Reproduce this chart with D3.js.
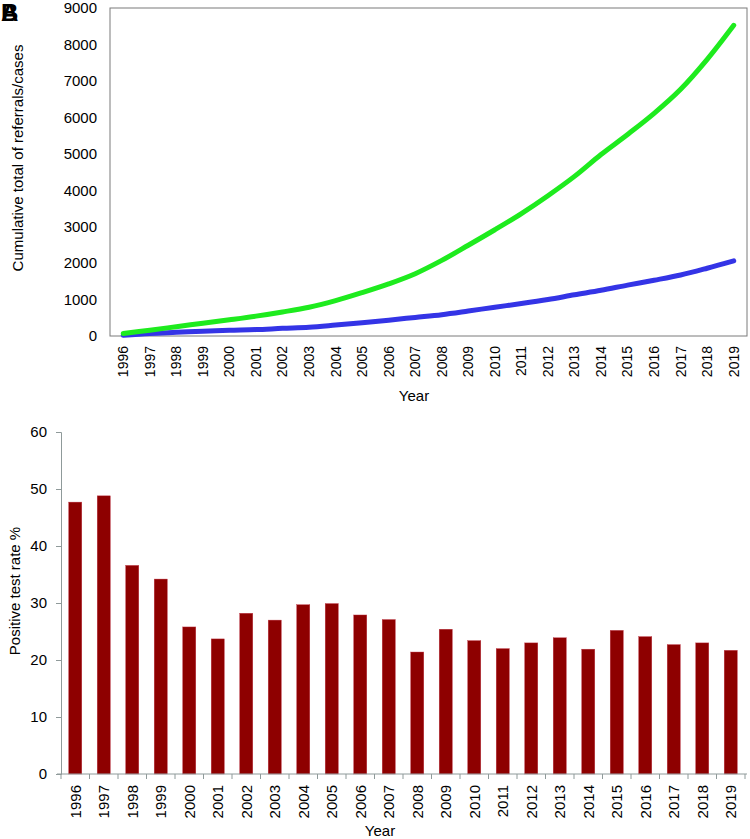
<!DOCTYPE html>
<html>
<head>
<meta charset="utf-8">
<script src="https://cdn.jsdelivr.net/npm/d3@7"></script>
<style>
  html, body { margin: 0; padding: 0; background: #fff; }
  svg { display: block; font-family: "Liberation Sans", Arial, sans-serif; }
</style>
</head>
<body>
<svg id="chart" width="750" height="839"></svg>
<script>
// ---- Data ----
const years = ["1996","1997","1998","1999","2000","2001","2002","2003","2004","2005","2006","2007",
               "2008","2009","2010","2011","2012","2013","2014","2015","2016","2017","2018","2019"];
const referralsCumulative = [70,160,255,350,445,545,660,790,970,1190,1430,1710,
                             2075,2490,2915,3360,3850,4380,4980,5530,6110,6770,7590,8525];
const casesCumulative = [20,70,100,130,155,175,210,240,300,365,435,510,
                         585,685,790,890,1000,1130,1255,1395,1530,1675,1860,2060];
const positiveRate = [47.7,48.8,36.6,34.2,25.8,23.7,28.2,27.0,29.7,29.9,27.9,27.1,
                      21.4,25.4,23.4,22.0,23.0,23.9,21.9,25.2,24.1,22.7,23.0,21.7];
const topTicks = [0,1000,2000,3000,4000,5000,6000,7000,8000,9000];
const bottomTicks = [0,10,20,30,40,50,60];
const topYTitle = "Cumulative total of referrals/cases";
const bottomYTitle = "Positive test rate %";
const xTitle = "Year";

const svg = d3.select("#chart");

// Panel labels (overlapping A/B as in reference)
["A","B"].forEach(t => {
  svg.append("text").attr("x", 1).attr("y", 21)
    .attr("font-size", 24).attr("font-weight", "bold").attr("fill", "#000").text(t);
});

// ---------- Top panel: cumulative line chart ----------
const T = { left: 110, right: 747, top: 8, bottom: 336 };
const xTop = d3.scaleBand().domain(years).range([T.left, T.right]);
const yTop = d3.scaleLinear().domain([0, 9000]).range([T.bottom, T.top]);

svg.append("rect").attr("x", T.left).attr("y", T.top)
  .attr("width", T.right - T.left).attr("height", T.bottom - T.top)
  .attr("fill", "none").attr("stroke", "#7a7a7a").attr("stroke-width", 1);

const yAxisTop = svg.append("g").attr("transform", `translate(${T.left},0)`)
  .call(d3.axisLeft(yTop).tickValues(topTicks).tickFormat(d3.format("d")).tickSize(0).tickPadding(13));
yAxisTop.select(".domain").remove();
yAxisTop.selectAll("text").attr("font-size", 15).attr("fill", "#000")
  .attr("font-family", "Liberation Sans, Arial, sans-serif");

const xAxisTop = svg.append("g").attr("transform", `translate(0,${T.bottom})`)
  .call(d3.axisBottom(xTop).tickSize(0).tickPadding(0));
xAxisTop.select(".domain").remove();
xAxisTop.selectAll("text")
  .attr("font-size", 14).attr("fill", "#000")
  .attr("font-family", "Liberation Sans, Arial, sans-serif")
  .attr("transform", "translate(0,10) rotate(-90)")
  .attr("text-anchor", "end").attr("dy", "0.35em").attr("x", 0).attr("y", 0);

svg.append("text").attr("x", 414).attr("y", 401).attr("text-anchor", "middle")
  .attr("font-size", 15).attr("fill", "#000").text(xTitle);
svg.append("text").attr("transform", "translate(23,158) rotate(-90)")
  .attr("text-anchor", "middle").attr("font-size", 15).attr("fill", "#000").text(topYTitle);

const line = d3.line()
  .x((d, i) => xTop(years[i]) + xTop.bandwidth() / 2)
  .y(d => yTop(d))
  .curve(d3.curveCatmullRom.alpha(0.5));

svg.append("path").datum(casesCumulative).attr("d", line)
  .attr("fill", "none").attr("stroke", "#3434e6").attr("stroke-width", 5)
  .attr("stroke-linecap", "round").attr("stroke-linejoin", "round");
svg.append("path").datum(referralsCumulative).attr("d", line)
  .attr("fill", "none").attr("stroke", "#1eeb1e").attr("stroke-width", 5)
  .attr("stroke-linecap", "round").attr("stroke-linejoin", "round");

// ---------- Bottom panel: bar chart ----------
const B = { left: 61, right: 745, top: 432, bottom: 774 };
const xBot = d3.scaleBand().domain(years).range([B.left, B.right]);
const yBot = d3.scaleLinear().domain([0, 60]).range([B.bottom, B.top]);
const barW = xBot.bandwidth() * 0.46;

svg.append("g").selectAll("rect").data(positiveRate).join("rect")
  .attr("x", (d, i) => xBot(years[i]) + (xBot.bandwidth() - barW) / 2)
  .attr("width", barW)
  .attr("y", d => yBot(d))
  .attr("height", d => yBot(0) - yBot(d))
  .attr("fill", "#8e0000").attr("stroke", "#c23a4a").attr("stroke-width", 0.4);

const yAxisBot = svg.append("g").attr("transform", `translate(${B.left},0)`)
  .call(d3.axisLeft(yBot).tickValues(bottomTicks).tickSize(5).tickPadding(9));
yAxisBot.select(".domain").attr("stroke", "#8f9a9a");
yAxisBot.selectAll("line").attr("stroke", "#8f9a9a");
yAxisBot.selectAll("text").attr("font-size", 15).attr("fill", "#000")
  .attr("font-family", "Liberation Sans, Arial, sans-serif");

const xg = svg.append("g");
xg.append("line").attr("x1", B.left - 4).attr("x2", B.right + 2)
  .attr("y1", B.bottom).attr("y2", B.bottom).attr("stroke", "#8f9a9a");
xg.selectAll("line.tk").data(years.concat(["end"])).join("line").attr("class", "tk")
  .attr("x1", (d, i) => B.left + i * xBot.step())
  .attr("x2", (d, i) => B.left + i * xBot.step())
  .attr("y1", B.bottom).attr("y2", B.bottom + 5).attr("stroke", "#8f9a9a");

const xAxisBot = svg.append("g").attr("transform", `translate(0,${B.bottom})`)
  .call(d3.axisBottom(xBot).tickSize(0).tickPadding(0));
xAxisBot.select(".domain").remove();
xAxisBot.selectAll("text")
  .attr("font-size", 15).attr("fill", "#000")
  .attr("font-family", "Liberation Sans, Arial, sans-serif")
  .attr("transform", "translate(0,11) rotate(-90)")
  .attr("text-anchor", "end").attr("dy", "0.35em").attr("x", 0).attr("y", 0);

svg.append("text").attr("x", 380).attr("y", 836).attr("text-anchor", "middle")
  .attr("font-size", 15).attr("fill", "#000").text(xTitle);
svg.append("text").attr("transform", "translate(20,591) rotate(-90)")
  .attr("text-anchor", "middle").attr("font-size", 15).attr("fill", "#000").text(bottomYTitle);
</script>
</body>
</html>
